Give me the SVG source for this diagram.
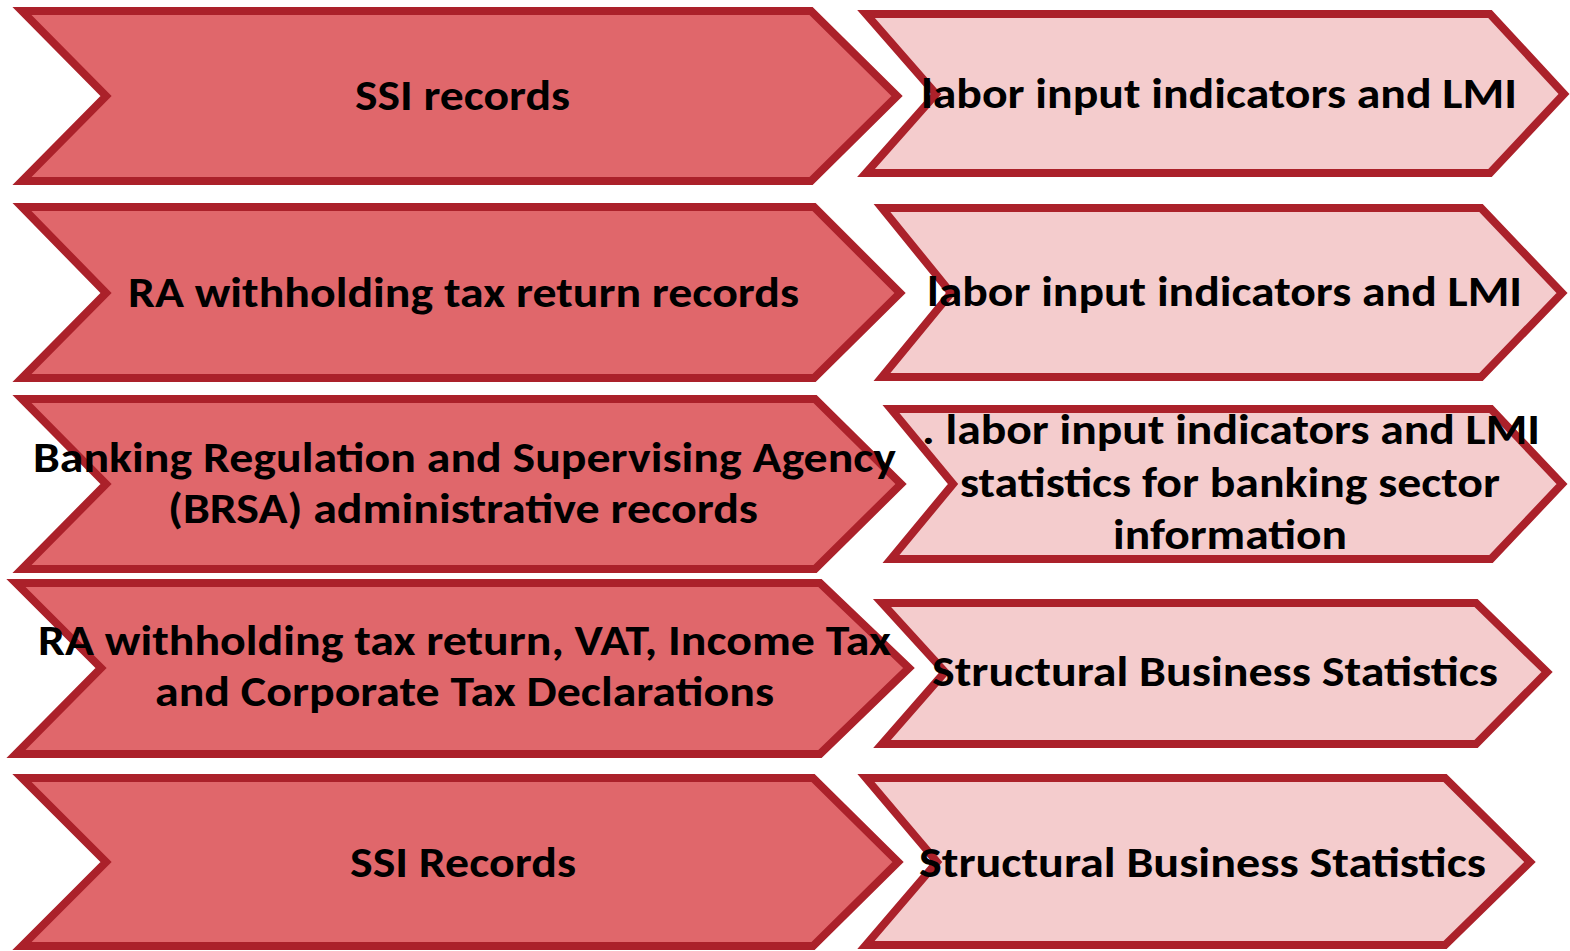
<svg xmlns="http://www.w3.org/2000/svg" width="1570" height="951" viewBox="0 0 1570 951">
<style>
.src{fill:#E0676B;stroke:#AB212A;stroke-width:8;stroke-linejoin:miter;stroke-miterlimit:10}
.dst{fill:#F4CCCD;stroke:#AB212A;stroke-width:8;stroke-linejoin:miter;stroke-miterlimit:10}
text{font-family:Carlito,Lato,"Open Sans",sans-serif;font-weight:700;font-size:42px;fill:#000;text-anchor:middle}
</style>
<rect width="1570" height="951" fill="#fff"/>
<g id="connectors"></g>
<g id="src1"><polygon class="src" points="22,11 811,11 897,96 811,181 22,181 106,96"/>
<text x="462.5" y="110" textLength="215" lengthAdjust="spacingAndGlyphs">SSI records</text></g>
<g id="dst1"><polygon class="dst" points="866,14 1490,14 1564,94 1490,173 866,173 936,94"/>
<text x="1219" y="108" textLength="596" lengthAdjust="spacingAndGlyphs">labor input indicators and LMI</text></g>
<g id="src2"><polygon class="src" points="22,207 814,207 900,293 814,378 22,378 106,293"/>
<text x="463.5" y="307" textLength="671" lengthAdjust="spacingAndGlyphs">RA withholding tax return records</text></g>
<g id="dst2"><polygon class="dst" points="882,208 1481,208 1562,293 1481,377 882,377 951,293"/>
<text x="1224.5" y="306" textLength="595" lengthAdjust="spacingAndGlyphs">labor input indicators and LMI</text></g>
<g id="src3"><polygon class="src" points="22,399 815,399 901,484 815,569 22,569 106,484"/>
<text x="464.5" y="472" textLength="863" lengthAdjust="spacingAndGlyphs">Banking Regulation and Supervising Agency</text>
<text x="463" y="523" textLength="590" lengthAdjust="spacingAndGlyphs">(BRSA) administrative records</text></g>
<g id="dst3"><polygon class="dst" points="891,409 1491,409 1562,484 1491,559 891,559 953,484"/>
<text x="1231" y="444" textLength="618" lengthAdjust="spacingAndGlyphs">. labor input indicators and LMI</text>
<text x="1230" y="497" textLength="540" lengthAdjust="spacingAndGlyphs">statistics for banking sector</text>
<text x="1230" y="549" textLength="234" lengthAdjust="spacingAndGlyphs">information</text></g>
<g id="src4"><polygon class="src" points="16,583 820,583 909,668 820,754 16,754 101,668"/>
<text x="464.5" y="655" textLength="853" lengthAdjust="spacingAndGlyphs">RA withholding tax return, VAT, Income Tax</text>
<text x="464.5" y="706" textLength="619" lengthAdjust="spacingAndGlyphs">and Corporate Tax Declarations</text></g>
<g id="dst4"><polygon class="dst" points="882,603 1476,603 1547,672 1476,744 882,744 945,672"/>
<text x="1215" y="686" textLength="566" lengthAdjust="spacingAndGlyphs">Structural Business Statistics</text></g>
<g id="src5"><polygon class="src" points="22,778 813,778 898,862 813,946 22,946 106,862"/>
<text x="463" y="877" textLength="226" lengthAdjust="spacingAndGlyphs">SSI Records</text></g>
<g id="dst5"><polygon class="dst" points="866,778 1445,778 1530,862 1445,945 866,945 937,862"/>
<text x="1202.5" y="877" textLength="567" lengthAdjust="spacingAndGlyphs">Structural Business Statistics</text></g>
</svg>
